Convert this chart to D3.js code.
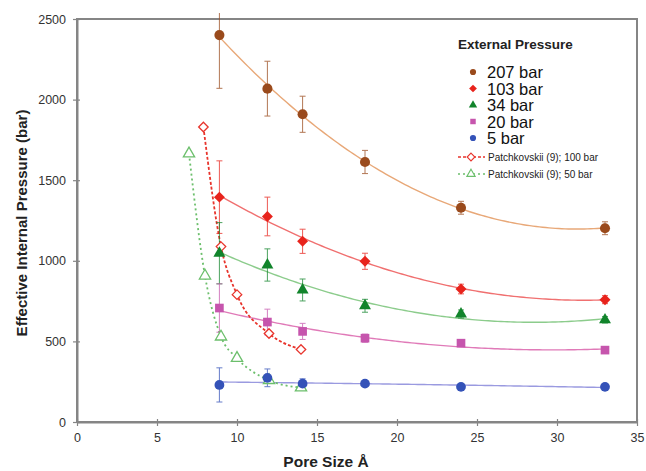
<!DOCTYPE html>
<html><head><meta charset="utf-8">
<script src="https://cdn.jsdelivr.net/npm/d3@7"></script>
<style>body{margin:0;background:#fff}svg{display:block;font-family:Arial,"Liberation Sans",sans-serif}</style>
</head><body><svg id="c" width="646" height="471"></svg>
<script>
const poreSizes = [8.9, 11.9, 14.1, 18, 24, 33];
const seriesNames = ["207 bar", "103 bar", "34 bar", "20 bar", "5 bar"];
const p207 = [2400, 2068, 1909, 1613, 1329, 1202];
const e207 = [330, 170, 112, 72, 40, 40];
const p103 = [1395, 1275, 1121, 997, 825, 759];
const e103 = [225, 120, 75, 50, 30, 25];
const p34 = [1047, 974, 819, 721, 670, 634];
const e34 = [190, 100, 68, 40, 25, 20];
const p20 = [707, 620, 562, 520, 489, 446];
const e20 = [150, 80, 50, 25, 15, 15];
const p5 = [230, 274, 238, 238, 218, 218];
const e5 = [106, 55, 30, 15, 15, 15];
const patch100X = [7.9, 9, 10, 12, 14];
const patch100Y = [1830, 1088, 790, 549, 450];
const patch50X = [7, 8, 9, 10, 12, 14];
const patch50Y = [1665, 907, 529, 396, 259, 213];
const xTicks = [0, 5, 10, 15, 20, 25, 30, 35];
const yTicks = [0, 500, 1000, 1500, 2000, 2500];

const svg = d3.select("#c");
const x = d3.scaleLinear().domain([0, 35]).range([77, 637]);
const y = d3.scaleLinear().domain([0, 2500]).range([422, 19]);

const axisCol = "#858585";
svg.append("rect").attr("x", x(0)).attr("y", y(2500)).attr("width", x(35) - x(0)).attr("height", y(0) - y(2500))
  .attr("fill", "none").attr("stroke", axisCol).attr("stroke-width", 2);

const xAxis = svg.append("g").attr("transform", `translate(0,${y(0)})`)
  .call(d3.axisBottom(x).tickValues(xTicks).tickFormat(d3.format("d")).tickSize(5).tickSizeOuter(0));
const yAxis = svg.append("g").attr("transform", `translate(${x(0)},0)`)
  .call(d3.axisLeft(y).tickValues(yTicks).tickFormat(d3.format("d")).tickSize(5).tickSizeOuter(0));
[xAxis, yAxis].forEach(g => {
  g.select(".domain").attr("stroke", axisCol).attr("stroke-width", 2);
  g.selectAll(".tick line").attr("stroke", axisCol).attr("stroke-width", 1.2);
  g.selectAll("text").attr("fill", "#333").attr("font-size", 12.5).attr("font-family", "Arial, 'Liberation Sans', sans-serif");
});
xAxis.selectAll(".tick line").attr("y1", -3).attr("y2", 4);
xAxis.selectAll("text").attr("dy", "0.95em");
yAxis.selectAll(".tick line").attr("x1", 3).attr("x2", -4);
yAxis.selectAll("text").attr("x", -11);

svg.append("text").attr("x", 326).attr("y", 467).attr("text-anchor", "middle")
  .attr("font-weight", "bold").attr("font-size", 15.5).attr("fill", "#222").text("Pore Size Å");
svg.append("text").attr("transform", "translate(27,223) rotate(-90)").attr("text-anchor", "middle")
  .attr("font-weight", "bold").attr("font-size", 15).attr("fill", "#222").text("Effective Internal Pressure (bar)");

function polyfit2(xs, ys) {
  let S = [0,0,0,0,0], T = [0,0,0];
  xs.forEach((xv, i) => {
    for (let k = 0; k < 5; k++) S[k] += Math.pow(xv, k);
    for (let k = 0; k < 3; k++) T[k] += ys[i] * Math.pow(xv, k);
  });
  const M = [[S[0],S[1],S[2],T[0]],[S[1],S[2],S[3],T[1]],[S[2],S[3],S[4],T[2]]];
  for (let i = 0; i < 3; i++) {
    for (let j = i + 1; j < 3; j++) {
      const f = M[j][i] / M[i][i];
      for (let k = i; k < 4; k++) M[j][k] -= f * M[i][k];
    }
  }
  const c = [0,0,0];
  for (let i = 2; i >= 0; i--) {
    let s = M[i][3];
    for (let k = i + 1; k < 3; k++) s -= M[i][k] * c[k];
    c[i] = s / M[i][i];
  }
  return xv => c[0] + c[1]*xv + c[2]*xv*xv;
}

// square rotated 45° (rhombus with equal diagonals)
const symbolRhombus = {
  draw(ctx, size) {
    const r = Math.sqrt(size / 2);
    ctx.moveTo(0, -r); ctx.lineTo(r, 0); ctx.lineTo(0, r); ctx.lineTo(-r, 0); ctx.closePath();
  }
};

const series = [
  {name: seriesNames[0], vals: p207, errs: e207, col: "#9a4a1c", line: "#e8a878", shape: d3.symbolCircle, size: 80},
  {name: seriesNames[1], vals: p103, errs: e103, col: "#e8231c", line: "#f07070", shape: symbolRhombus, size: 60},
  {name: seriesNames[2], vals: p34, errs: e34, col: "#11842b", line: "#8ccc8c", shape: d3.symbolTriangle, size: 62},
  {name: seriesNames[3], vals: p20, errs: e20, col: "#c655ad", line: "#e07ab8", shape: d3.symbolSquare, size: 75},
  {name: seriesNames[4], vals: p5, errs: e5, col: "#3452b8", line: "#9a9ae0", shape: d3.symbolCircle, size: 75}
];

svg.append("defs").append("clipPath").attr("id", "clp").append("rect")
  .attr("x", 0).attr("y", 13).attr("width", 646).attr("height", 470);

series.forEach(s => {
  const f = polyfit2(poreSizes, s.vals);
  const pts = d3.range(poreSizes[0], poreSizes[poreSizes.length - 1] + 0.001, 0.2).map(xv => [xv, f(xv)]);
  svg.append("path").datum(pts).attr("fill", "none").attr("stroke", s.line).attr("stroke-width", 1.4)
    .attr("d", d3.line().x(d => x(d[0])).y(d => y(d[1])));
});

const lineGen = d3.line().curve(d3.curveMonotoneX).x(d => x(d[0])).y(d => y(d[1]));
const p100 = patch100X.map((v, i) => [v, patch100Y[i]]);
const p50 = patch50X.map((v, i) => [v, patch50Y[i]]);
svg.append("path").datum(p50).attr("fill", "none").attr("stroke", "#6cbf6c").attr("stroke-width", 1.8)
  .attr("stroke-dasharray", "2,3").attr("d", lineGen);
svg.append("path").datum(p100).attr("fill", "none").attr("stroke", "#e8342c").attr("stroke-width", 1.8)
  .attr("stroke-dasharray", "3,2").attr("d", lineGen);

series.forEach(s => {
  const g = svg.append("g").attr("stroke", s.col).attr("stroke-width", 1).attr("opacity", 0.75).attr("clip-path", "url(#clp)");
  poreSizes.forEach((xv, i) => {
    const px = x(xv), y1 = y(s.vals[i] + s.errs[i]), y2 = y(s.vals[i] - s.errs[i]);
    g.append("line").attr("x1", px).attr("x2", px).attr("y1", y1).attr("y2", y2);
    g.append("line").attr("x1", px - 3).attr("x2", px + 3).attr("y1", y1).attr("y2", y1);
    g.append("line").attr("x1", px - 3).attr("x2", px + 3).attr("y1", y2).attr("y2", y2);
  });
});

svg.selectAll(".p50").data(p50).join("path").attr("transform", d => `translate(${x(d[0])},${y(d[1])})`)
  .attr("d", d3.symbol(d3.symbolTriangle, 55)).attr("fill", "#fff").attr("stroke", "#6cbf6c").attr("stroke-width", 1.3);
svg.selectAll(".p100").data(p100).join("path").attr("transform", d => `translate(${x(d[0])},${y(d[1])})`)
  .attr("d", d3.symbol(symbolRhombus, 45)).attr("fill", "#fff").attr("stroke", "#e8342c").attr("stroke-width", 1.3);

series.forEach(s => {
  svg.append("g").selectAll("path").data(poreSizes.map((v, i) => [v, s.vals[i]])).join("path")
    .attr("transform", d => `translate(${x(d[0])},${y(d[1])})`)
    .attr("d", d3.symbol(s.shape, s.size)).attr("fill", s.col);
});

const lg = svg.append("g");
lg.append("text").attr("x", 458).attr("y", 49).attr("font-weight", "bold").attr("font-size", 13.5).attr("fill", "#222").text("External Pressure");
const rowY = [72, 88.5, 105, 121.5, 138];
series.forEach((s, i) => {
  lg.append("path").attr("transform", `translate(473,${rowY[i]})`).attr("d", d3.symbol(s.shape, 30)).attr("fill", s.col);
  lg.append("text").attr("x", 487).attr("y", rowY[i] + 6).attr("font-size", 16.5).attr("fill", "#111").text(s.name);
});
const pl = [
  {y: 157, col: "#e8342c", dash: "3,2", shape: symbolRhombus, size: 30, label: "Patchkovskii (9); 100 bar"},
  {y: 174, col: "#6cbf6c", dash: "2,3", shape: d3.symbolTriangle, size: 30, label: "Patchkovskii (9); 50 bar"}
];
pl.forEach(p => {
  lg.append("line").attr("x1", 458).attr("x2", 485).attr("y1", p.y).attr("y2", p.y).attr("stroke", p.col).attr("stroke-width", 1.5).attr("stroke-dasharray", p.dash);
  lg.append("path").attr("transform", `translate(471,${p.y})`).attr("d", d3.symbol(p.shape, p.size)).attr("fill", "#fff").attr("stroke", p.col).attr("stroke-width", 1.1);
  lg.append("text").attr("x", 488).attr("y", p.y + 3.5).attr("font-size", 10).attr("fill", "#222").text(p.label);
});
</script></body></html>
